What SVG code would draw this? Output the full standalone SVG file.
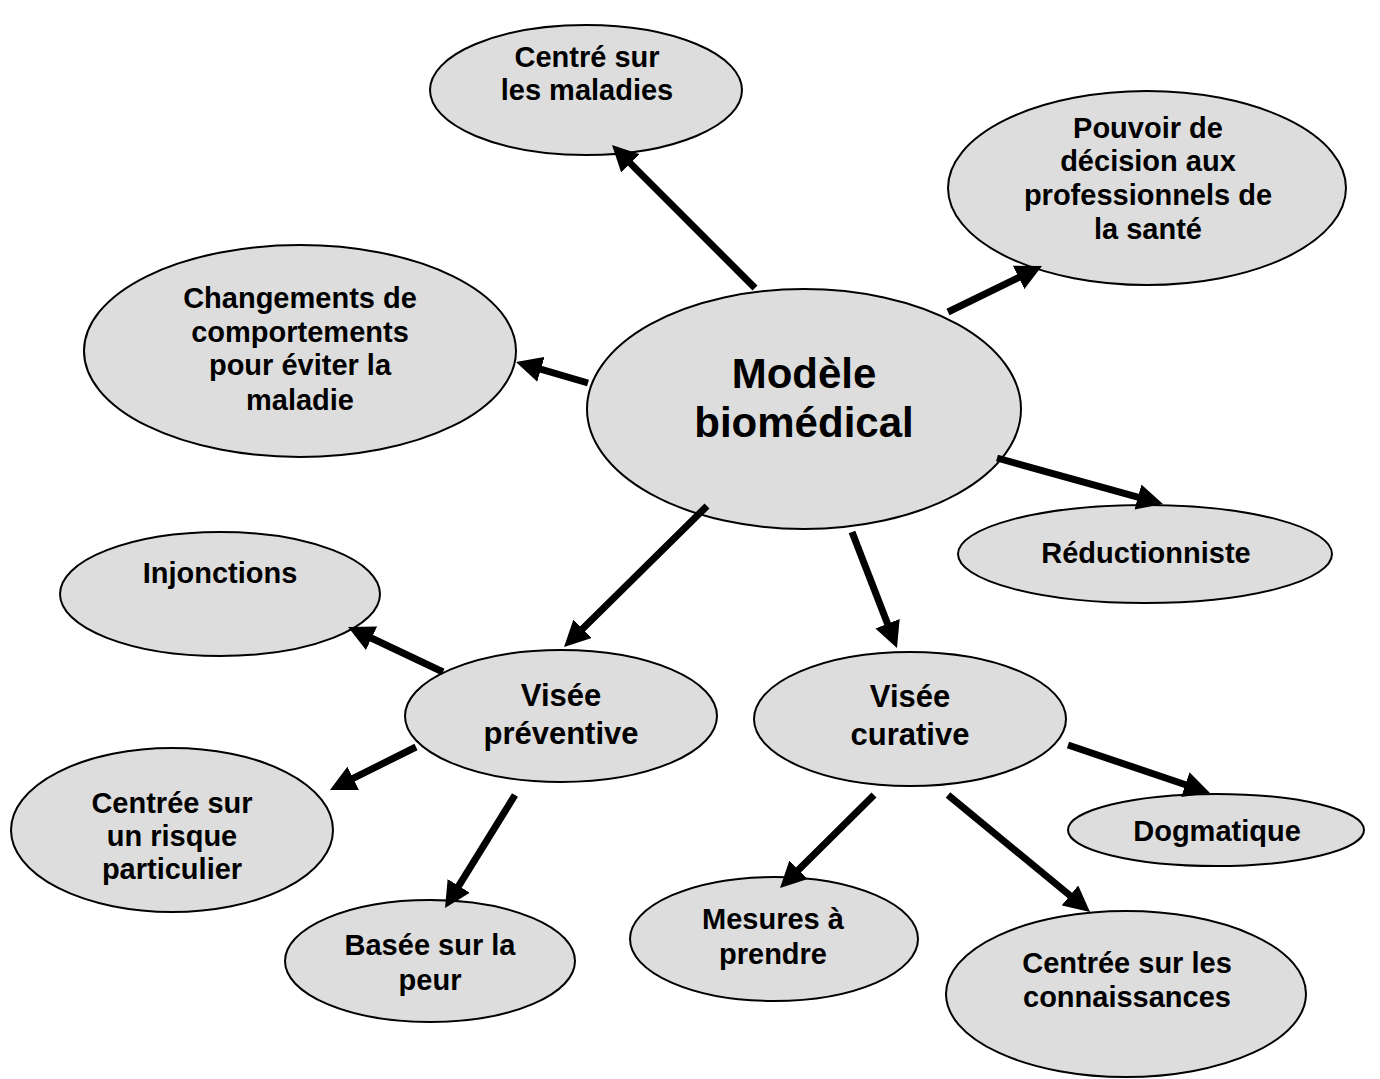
<svg xmlns="http://www.w3.org/2000/svg" width="1380" height="1079" viewBox="0 0 1380 1079">
<style>
.n ellipse{fill:#dddddd;stroke:#000;stroke-width:2}
text{font-family:"Liberation Sans",Arial,sans-serif;font-weight:bold;fill:#000;text-anchor:middle}
.s{font-size:29px}
.m{font-size:31px}
.b{font-size:42px}
.c line{stroke:#000;stroke-width:7;marker-end:url(#ah)}
</style>
<defs>
<marker id="ah" markerUnits="userSpaceOnUse" viewBox="0 0 26 26" markerWidth="26" markerHeight="26" refX="12" refY="13" orient="auto">
<path d="M0,0 L26,13 L0,26 z" fill="#000"/>
</marker>
</defs>
<rect width="1380" height="1079" fill="#fff"/>
<g id="n-centre" class="n"><ellipse cx="804" cy="409" rx="217" ry="120"/><text class="b" x="804" y="388">Modèle</text><text class="b" x="804" y="437">biomédical</text></g>
<g id="n-maladies" class="n"><ellipse cx="586" cy="90" rx="156" ry="65"/><text class="s" x="587" y="67">Centré sur</text><text class="s" x="587" y="100">les maladies</text></g>
<g id="n-pouvoir" class="n"><ellipse cx="1147" cy="188" rx="199" ry="97"/><text class="s" x="1148" y="138">Pouvoir de</text><text class="s" x="1148" y="171">décision aux</text><text class="s" x="1148" y="205">professionnels de</text><text class="s" x="1148" y="239">la santé</text></g>
<g id="n-changements" class="n"><ellipse cx="300" cy="351" rx="216" ry="106"/><text class="s" x="300" y="308">Changements de</text><text class="s" x="300" y="342">comportements</text><text class="s" x="300" y="375">pour éviter la</text><text class="s" x="300" y="410">maladie</text></g>
<g id="n-reductionniste" class="n"><ellipse cx="1145" cy="554" rx="187" ry="49"/><text class="s" x="1146" y="563">Réductionniste</text></g>
<g id="n-injonctions" class="n"><ellipse cx="220" cy="594" rx="160" ry="62"/><text class="s" x="220" y="583">Injonctions</text></g>
<g id="n-preventive" class="n"><ellipse cx="561" cy="716" rx="156" ry="66"/><text class="m" x="561" y="706">Visée</text><text class="m" x="561" y="744">préventive</text></g>
<g id="n-curative" class="n"><ellipse cx="910" cy="719" rx="156" ry="67"/><text class="m" x="910" y="707">Visée</text><text class="m" x="910" y="745">curative</text></g>
<g id="n-risque" class="n"><ellipse cx="172" cy="830" rx="161" ry="82"/><text class="s" x="172" y="813">Centrée sur</text><text class="s" x="172" y="846">un risque</text><text class="s" x="172" y="879">particulier</text></g>
<g id="n-peur" class="n"><ellipse cx="430" cy="961" rx="145" ry="61"/><text class="s" x="430" y="955">Basée sur la</text><text class="s" x="430" y="990">peur</text></g>
<g id="n-mesures" class="n"><ellipse cx="774" cy="939" rx="144" ry="62"/><text class="s" x="773" y="929">Mesures à</text><text class="s" x="773" y="964">prendre</text></g>
<g id="n-dogmatique" class="n"><ellipse cx="1216" cy="830" rx="148" ry="36"/><text class="s" x="1217" y="841">Dogmatique</text></g>
<g id="n-connaissances" class="n"><ellipse cx="1126" cy="994" rx="180" ry="83"/><text class="s" x="1127" y="973">Centrée sur les</text><text class="s" x="1127" y="1007">connaissances</text></g>
<g id="connectors" class="c">
<line x1="755" y1="288" x2="621.9" y2="154.9"/>
<line x1="948" y1="312" x2="1029.4" y2="272.2"/>
<line x1="588" y1="383" x2="529.4" y2="365.9"/>
<line x1="997" y1="458" x2="1149.5" y2="500.3"/>
<line x1="707" y1="506" x2="574" y2="637.2"/>
<line x1="852" y1="532" x2="891.9" y2="634.9"/>
<line x1="443" y1="672" x2="360.7" y2="633"/>
<line x1="416" y1="747" x2="342.5" y2="783.7"/>
<line x1="515" y1="795" x2="452.4" y2="896.1"/>
<line x1="874" y1="795" x2="790" y2="878.2"/>
<line x1="948" y1="795" x2="1079.2" y2="903.1"/>
<line x1="1068" y1="745" x2="1196.7" y2="788.5"/>
</g>
</svg>
